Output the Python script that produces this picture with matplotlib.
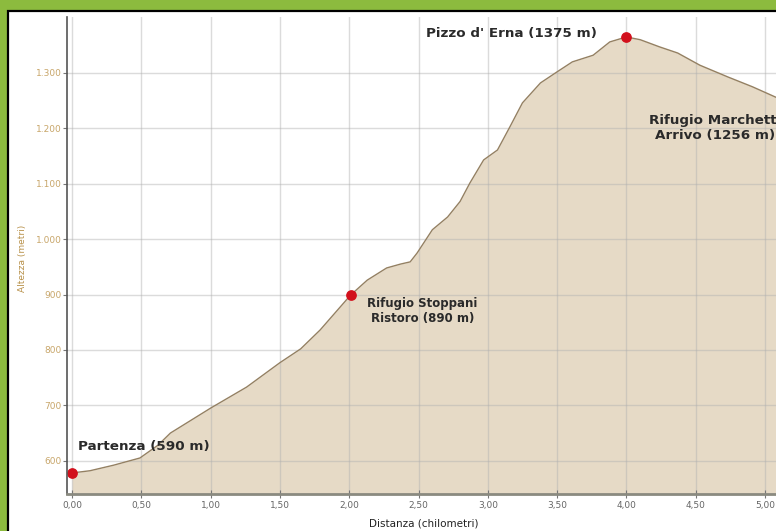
import matplotlib
matplotlib.use("Agg")
import matplotlib.pyplot as plt
import matplotlib.patches as patches
from matplotlib.ticker import FuncFormatter, MultipleLocator

# ---- data ----
distance_km = [0.00, 0.13, 0.30, 0.49, 0.62, 0.71, 1.00, 1.26, 1.50, 1.65, 1.79,
               2.01, 2.13, 2.27, 2.37, 2.44, 2.49, 2.60, 2.71, 2.80, 2.87, 2.97,
               3.07, 3.16, 3.25, 3.38, 3.50, 3.61, 3.76, 3.88, 4.00, 4.10, 4.24,
               4.37, 4.53, 4.73, 4.91, 5.08, 5.12]
altitude_m = [578, 582, 592, 605, 628, 650, 695, 733, 777, 802, 836,
              899, 926, 948, 955, 959, 975, 1017, 1040, 1068, 1101, 1143,
              1161, 1203, 1246, 1282, 1302, 1320, 1332, 1356, 1365, 1360, 1347,
              1336, 1314, 1293, 1275, 1256, 1252]

waypoint_x = [0.00, 2.01, 4.00, 5.12]
waypoint_y = [578, 899, 1365, 1252]
waypoint_labels = ["Partenza (590 m)", "Rifugio Stoppani\nRistoro (890 m)",
                   "Pizzo d' Erna (1375 m)", "Rifugio Marchetti\nArrivo (1256 m)"]

y_ticks = [600, 700, 800, 900, 1000, 1100, 1200, 1300]
x_label = "Distanza (chilometri)"
y_label = "Altezza (metri)"

# ---- figure ----
W, H = 776, 531
fig = plt.figure(figsize=(W / 100, H / 100), dpi=100)
fig.patch.set_facecolor("#8cbb3e")
panel = patches.Rectangle((8 / W, -0.05), 1.1, 1 - 11 / H + 0.05,
                          transform=fig.transFigure, facecolor="white",
                          edgecolor="black", linewidth=1.6, zorder=-10)
fig.add_artist(panel)

px_per_km = 138.6
left_px, x0_px = 67, 72
bottom_px, top_px = 494, 17
xmin = (left_px - x0_px) / px_per_km
xmax = 5.3
ax_w_px = (xmax - xmin) * px_per_km
ax = fig.add_axes([left_px / W, (H - bottom_px) / H, ax_w_px / W, (bottom_px - top_px) / H])
ax.set_zorder(1)
ax.set_facecolor("none")

ymin, ymax = 540, 1401
ax.set_xlim(xmin, xmax)
ax.set_ylim(ymin, ymax)

ax.fill_between(distance_km, altitude_m, ymin, color="#e6dac6", zorder=1, linewidth=0)
ax.plot(distance_km, altitude_m, color="#948062", linewidth=1.0, zorder=3)

ax.grid(True, color="#b0b0b0", alpha=0.45, linewidth=1.0)
ax.set_axisbelow(False)
for gl in ax.get_xgridlines() + ax.get_ygridlines():
    gl.set_zorder(2)

ax.scatter(waypoint_x, waypoint_y, s=45, color="#d2101c", zorder=5, clip_on=False)

ax.xaxis.set_major_locator(MultipleLocator(0.5))
ax.set_yticks(y_ticks)
ax.xaxis.set_major_formatter(FuncFormatter(lambda v, p: f"{v:.2f}".replace(".", ",")))
ax.yaxis.set_major_formatter(FuncFormatter(lambda v, p: f"{int(v):,}".replace(",", ".")))
ax.tick_params(axis="x", direction="inout", length=6, width=0.8, color="#777777",
               labelsize=6.5, labelcolor="#666666", pad=2)
ax.tick_params(axis="y", direction="out", length=3, width=0.8, color="#777777",
               labelsize=6.5, labelcolor="#c8a66a", pad=1)

for s in ["top", "right"]:
    ax.spines[s].set_visible(False)
ax.spines["left"].set_color("#555555")
ax.spines["left"].set_linewidth(1.2)
ax.spines["bottom"].set_color("#8a8a80")
ax.spines["bottom"].set_linewidth(2.0)
ax.spines["left"].set_zorder(6)
ax.spines["bottom"].set_zorder(6)

txt_big = dict(fontsize=9.7, fontweight="bold", color="#2a2a2a", zorder=7)
txt_small = dict(fontsize=8.5, fontweight="bold", color="#2a2a2a", zorder=7)
ax.text(0.043, 625, waypoint_labels[0], ha="left", va="center", **txt_big)
ax.text(2.53, 871, waypoint_labels[1], ha="center", va="center", linespacing=1.2, **txt_small)
ax.text(3.17, 1372, waypoint_labels[2], ha="center", va="center", **txt_big)
ax.text(4.64, 1201, waypoint_labels[3], ha="center", va="center", linespacing=1.15, **txt_big)

fig.text(424 / W, 1 - 523 / H, x_label, ha="center", va="center", fontsize=7.5, color="#222222")
fig.text(22 / W, 1 - 258 / H, y_label, ha="center", va="center", rotation=90,
         fontsize=6.5, color="#b8914a")

fig.savefig("out.png", dpi=100, facecolor=fig.get_facecolor())
